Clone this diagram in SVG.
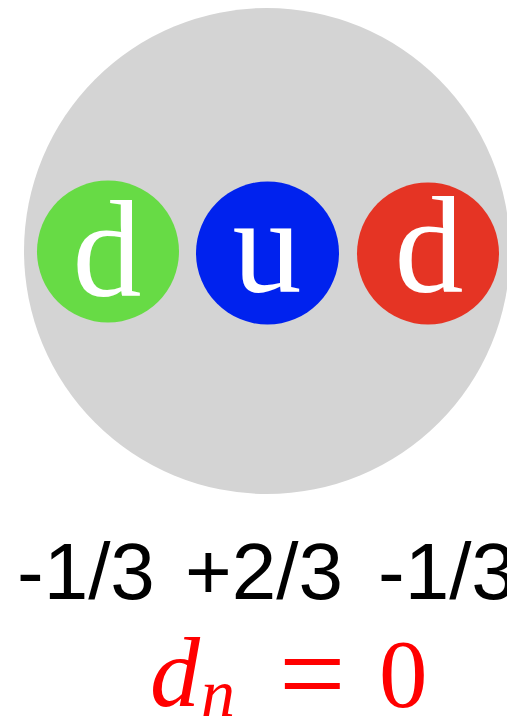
<svg xmlns="http://www.w3.org/2000/svg" width="507" height="719" viewBox="0 0 507 719">
<style>
.q{font-family:"Liberation Serif","Times New Roman",serif;font-size:138px;fill:#fff;text-anchor:middle}
.ch{font-family:"Liberation Sans",Arial,sans-serif;font-size:80px;fill:#000}
.m{font-family:"Liberation Serif","Times New Roman",serif;fill:#ff0000}
</style>
<rect width="507" height="719" fill="#fff"/>
<g id="nucleon"><circle cx="267" cy="251" r="243" fill="#d4d4d4"/></g>
<g id="quark-d1"><circle cx="108" cy="251.5" r="71" fill="#67db45"/><text class="q" x="107" y="296">d</text></g>
<g id="quark-u"><circle cx="267.5" cy="253" r="71.5" fill="#0022ee"/><text class="q" x="267" y="292">u</text></g>
<g id="quark-d2"><circle cx="428" cy="253.5" r="71" fill="#e53424"/><text class="q" x="429" y="292">d</text></g>
<g id="charges">
<text class="ch" x="17" y="599">-1/3</text>
<text class="ch" x="185" y="599">+2/3</text>
<text class="ch" x="378" y="599">-1/3</text>
</g>
<g id="dipole">
<text class="m" x="150" y="706" font-size="100" font-style="italic">d</text>
<text class="m" x="201" y="716" font-size="68" font-style="italic">n</text>
<text class="m" x="279" y="714" font-size="118">=</text>
<text class="m" x="379" y="707" font-size="97">0</text>
</g>
</svg>
